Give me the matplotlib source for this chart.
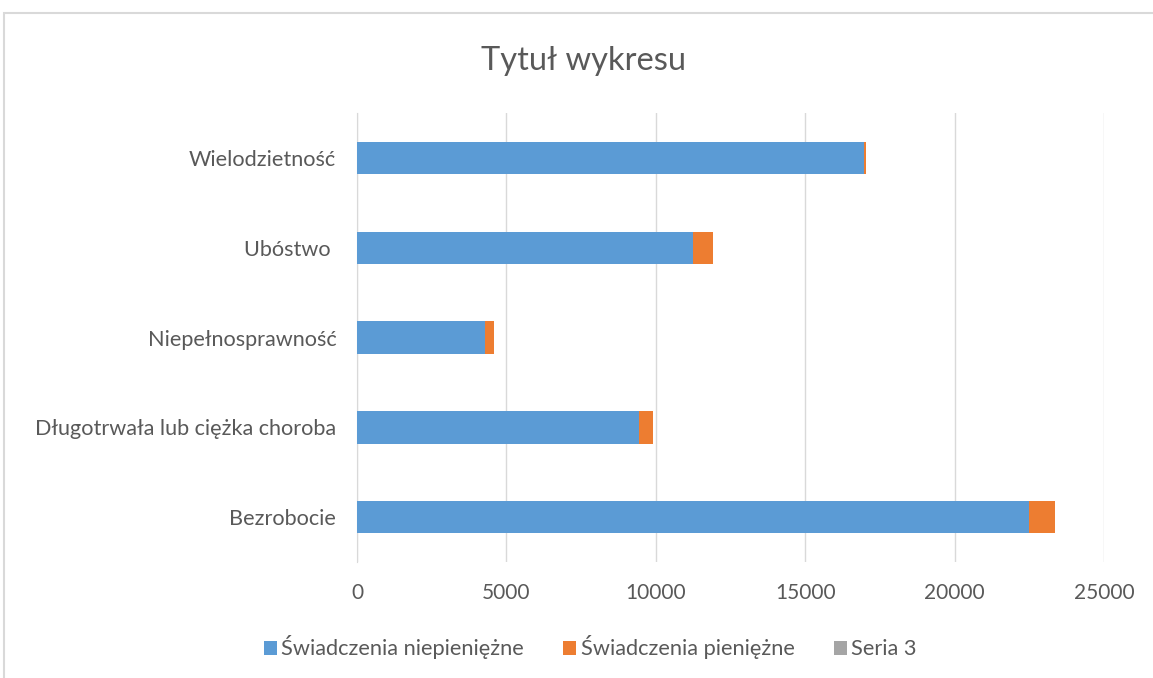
import numpy as np
import matplotlib.pyplot as plt
from matplotlib.patches import Rectangle

# dane
kategorie = ['Bezrobocie', 'Długotrwała lub ciężka choroba', 'Niepełnosprawność',
             'Ubóstwo ', 'Wielodzietność']
niepieniezne = [22500, 9430, 4280, 11230, 16980]
pieniezne = [870, 470, 300, 670, 50]
seria3 = [0, 0, 0, 0, 0]

plt.rcParams['font.family'] = ['Lato', 'DejaVu Sans']
szary = '#595959'

fig = plt.figure(figsize=(11.53, 6.78), dpi=100)
ax = fig.add_axes([0.3096, 0.171, 0.648, 0.662])

y = np.arange(len(kategorie))
h = 0.36
ax.barh(y, niepieniezne, height=h, color='#5b9bd5', label='Świadczenia niepieniężne', zorder=3)
ax.barh(y, pieniezne, height=h, left=niepieniezne, color='#ed7d31',
        label='Świadczenia pieniężne', zorder=3)
left3 = [a + b for a, b in zip(niepieniezne, pieniezne)]
ax.barh(y, seria3, height=h, left=left3, color='#a5a5a5', label='Seria 3', zorder=3)

ax.set_xlim(0, 25000)
ax.set_ylim(-0.5, len(kategorie) - 0.5)
ax.set_xticks(range(0, 25001, 5000))
ax.set_yticks(y)
ax.set_yticklabels(kategorie)
ax.grid(axis='x', color='#d9d9d9', lw=1, zorder=0)
for s in ['top', 'right', 'bottom']:
    ax.spines[s].set_visible(False)
ax.spines['left'].set_color('#d9d9d9')
ax.tick_params(axis='both', length=0, labelsize=15, colors=szary)
ax.tick_params(axis='y', labelsize=15.6, pad=15)
ax.tick_params(axis='x', pad=15)

fig.text(0.506, 0.91, 'Tytuł wykresu', ha='center', va='center', fontsize=23.5, color=szary)

fig.legend(loc='center', bbox_to_anchor=(0.512, 0.045), ncol=3, frameon=False,
           fontsize=15.7, labelcolor=szary, handlelength=0.6, handleheight=0.6,
           handletextpad=0.2, columnspacing=1.8)

# ramka wykresu
fig.patches.append(Rectangle((4 / 1153, -0.01), 1.02, 1 - 13 / 678 + 0.01,
                             transform=fig.transFigure, fill=False,
                             edgecolor='#d9d9d9', lw=1.5))

fig.savefig('out.png', dpi=100)
